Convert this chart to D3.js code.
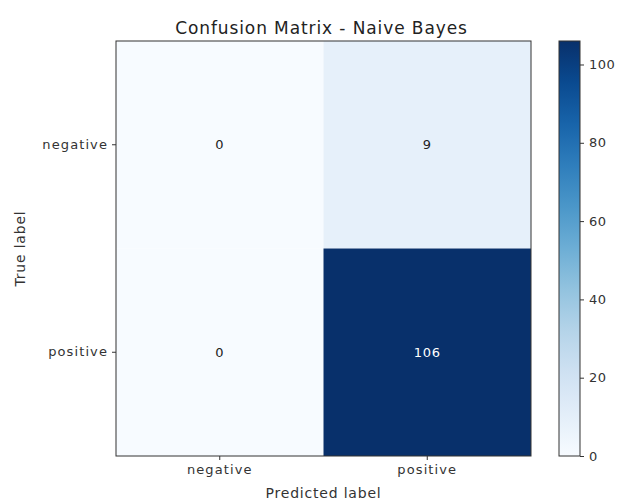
<!DOCTYPE html>
<html>
<head>
<meta charset="utf-8">
<script src="https://cdn.jsdelivr.net/npm/d3@7"></script>
<style>
  body { margin: 0; background: #fff; }
  text { font-family: "DejaVu Sans", sans-serif; }
</style>
</head>
<body>
<div id="chart"></div>
<script>
// Dữ liệu ma trận nhầm lẫn
const labels = ["negative", "positive"];
const matrix = [
    [0, 9],
    [0, 106]
];
const cbTicks = [0, 20, 40, 60, 80, 100];

const W = 621, H = 500;
const mLeft = 116, mTop = 41, size = 415;

const svg = d3.select("#chart")
    .append("svg")
    .attr("width", W)
    .attr("height", H);

const vmax = d3.max(matrix.flat());
const color = d3.scaleSequential(d3.interpolateBlues).domain([0, vmax]);

const x = d3.scaleBand().domain(labels).range([mLeft, mLeft + size]);
const y = d3.scaleBand().domain(labels).range([mTop, mTop + size]);

// các ô
const cells = [];
matrix.forEach((row, i) => row.forEach((v, j) => cells.push({ t: labels[i], p: labels[j], v })));

svg.selectAll("rect.cell")
    .data(cells)
    .enter()
    .append("rect")
    .attr("class", "cell")
    .attr("x", d => x(d.p))
    .attr("y", d => y(d.t))
    .attr("width", x.bandwidth())
    .attr("height", y.bandwidth())
    .attr("fill", d => color(d.v));

svg.selectAll("text.val")
    .data(cells)
    .enter()
    .append("text")
    .attr("class", "val")
    .attr("x", d => x(d.p) + x.bandwidth() / 2)
    .attr("y", d => y(d.t) + y.bandwidth() / 2)
    .attr("dy", "0.35em")
    .attr("text-anchor", "middle")
    .style("font-size", "13px")
    .style("letter-spacing", "0.8px")
    .attr("fill", d => d.v > vmax / 2 ? "#fff" : "#222")
    .text(d => d.v);

// khung
svg.append("rect")
    .attr("x", mLeft).attr("y", mTop)
    .attr("width", size).attr("height", size)
    .attr("fill", "none").attr("stroke", "#333").attr("stroke-width", 1);

// trục
const xAxis = svg.append("g")
    .attr("transform", `translate(0,${mTop + size})`)
    .call(d3.axisBottom(x).tickSizeOuter(0).tickSize(4).tickPadding(5));
const yAxis = svg.append("g")
    .attr("transform", `translate(${mLeft},0)`)
    .call(d3.axisLeft(y).tickSizeOuter(0).tickSize(4).tickPadding(4));
[xAxis, yAxis].forEach(g => {
    g.select(".domain").remove();
    g.selectAll("text").style("font-size", "13px").attr("fill", "#333")
        .style("letter-spacing", "1.1px")
        .style("font-family", "DejaVu Sans, sans-serif");
    g.selectAll("line").attr("stroke", "#333");
});

// colorbar
const cbX = 559, cbW = 21;
const cy = d3.scaleLinear().domain([0, vmax]).range([mTop + size, mTop]);
const defs = svg.append("defs");
const grad = defs.append("linearGradient")
    .attr("id", "cb").attr("x1", 0).attr("y1", 1).attr("x2", 0).attr("y2", 0);
d3.range(0, 1.01, 0.1).forEach(t => {
    grad.append("stop").attr("offset", t).attr("stop-color", color(t * vmax));
});
svg.append("rect")
    .attr("x", cbX).attr("y", mTop)
    .attr("width", cbW).attr("height", size)
    .attr("fill", "url(#cb)")
    .attr("stroke", "#333").attr("stroke-width", 1);
const cbAxis = svg.append("g")
    .attr("transform", `translate(${cbX + cbW},0)`)
    .call(d3.axisRight(cy).tickValues(cbTicks).tickSize(4).tickPadding(5).tickSizeOuter(0));
cbAxis.select(".domain").remove();
cbAxis.selectAll("text").style("font-size", "13px").attr("fill", "#333")
    .style("letter-spacing", "0.5px")
    .style("font-family", "DejaVu Sans, sans-serif");
cbAxis.selectAll("line").attr("stroke", "#333");

// tiêu đề và nhãn trục
svg.append("text")
    .attr("x", mLeft + size / 2 - 2)
    .attr("y", 34)
    .attr("text-anchor", "middle")
    .style("font-size", "17px")
    .style("letter-spacing", "0.9px")
    .attr("fill", "#222")
    .text("Confusion Matrix - Naive Bayes");

svg.append("text")
    .attr("x", mLeft + size / 2)
    .attr("y", 498)
    .attr("text-anchor", "middle")
    .style("font-size", "14px")
    .style("letter-spacing", "0.8px")
    .attr("fill", "#333")
    .text("Predicted label");

svg.append("text")
    .attr("transform", "rotate(-90)")
    .attr("x", -(mTop + size / 2))
    .attr("y", 25)
    .attr("text-anchor", "middle")
    .style("font-size", "14px")
    .style("letter-spacing", "0.8px")
    .attr("fill", "#333")
    .text("True label");
</script>
</body>
</html>
